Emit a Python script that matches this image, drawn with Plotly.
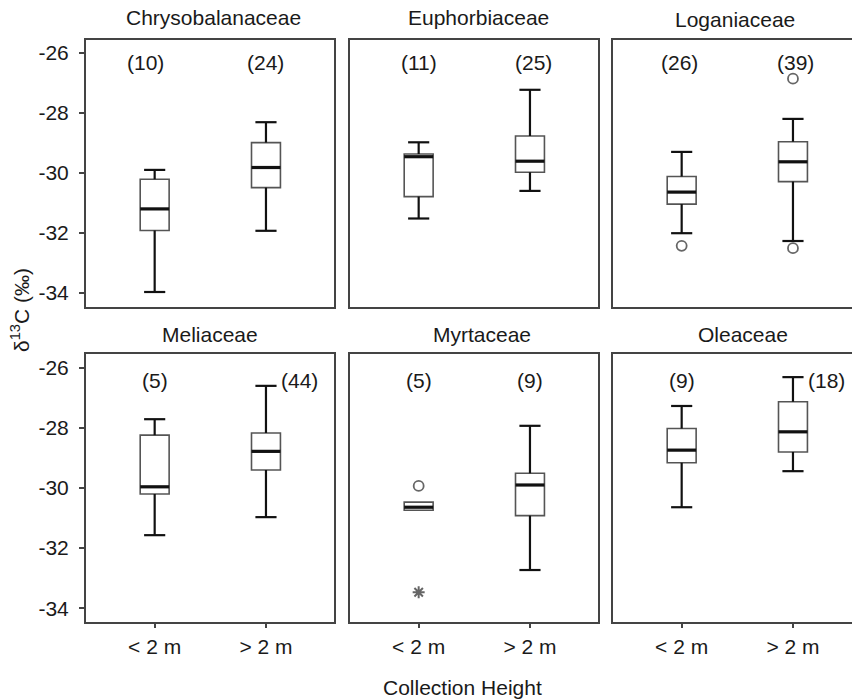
import plotly.graph_objects as go

W, H = 852, 699

# ---------------- data ----------------
families = ["Chrysobalanaceae", "Euphorbiaceae", "Loganiaceae",
            "Meliaceae", "Myrtaceae", "Oleaceae"]
categories = ["< 2 m", "> 2 m"]
n_counts = [[10, 24], [11, 25], [26, 39], [5, 44], [5, 9], [9, 18]]

# [<2 m, >2 m] per family
lower_whisker = [[-33.98, -31.94], [-31.53, -30.61], [-32.02, -32.28],
                 [-31.57, -30.97], [-30.74, -32.73], [-30.64, -29.44]]
q1_vals = [[-31.93, -30.50], [-30.80, -29.99], [-31.05, -30.30],
           [-30.20, -29.40], [-30.74, -30.92], [-29.16, -28.80]]
median_vals = [[-31.21, -29.83], [-29.47, -29.62], [-30.65, -29.64],
               [-29.96, -28.78], [-30.64, -29.90], [-28.74, -28.13]]
q3_vals = [[-30.22, -29.00], [-29.38, -28.78], [-30.13, -28.97],
           [-28.24, -28.17], [-30.47, -29.51], [-28.02, -27.13]]
upper_whisker = [[-29.91, -28.32], [-28.99, -27.24], [-29.31, -28.21],
                 [-27.71, -26.60], [-30.47, -27.93], [-27.27, -26.31]]
# outliers (circles) and extremes (stars)
outliers = [[[], []], [[], []], [[-32.44], [-26.87, -32.52]],
            [[], []], [[-29.93], []], [[], []]]
extremes = [[[], []], [[], []], [[], []],
            [[], []], [[-33.47], []], [[], []]]
y_ticks = [-26, -28, -30, -32, -34]

# ---------------- layout helpers ----------------
def fx(px):
    return px / W

def fy(px):
    return 1 - px / H

x_dom = [(86, 334), (350, 598), (613, 852)]
y_dom = [(40, 307), (354, 622)]
y_rng = [(-34.48, -25.58), (-34.46, -25.54)]
PX_PER_UNIT = 111.3
X0 = -0.617

BOX_W = 0.26
CAP_W = 0.19
frame_col = "#444444"
text_col = "#1a1a1a"
FONT = "Liberation Sans, Arial, Helvetica, sans-serif"

fig = go.Figure()
layout = dict(width=W, height=H, margin=dict(l=0, r=0, t=0, b=0),
              paper_bgcolor="white", plot_bgcolor="white",
              showlegend=False, font=dict(family=FONT, size=21, color=text_col))
annotations = []

for i, fam in enumerate(families):
    row, col = divmod(i, 3)
    k = i + 1
    xa = "x" if k == 1 else f"x{k}"
    ya = "y" if k == 1 else f"y{k}"
    xd = x_dom[col]
    yd = y_dom[row]
    xr = [X0, X0 + (xd[1] - xd[0]) / PX_PER_UNIT]
    layout["xaxis" if k == 1 else f"xaxis{k}"] = dict(
        domain=[fx(xd[0]), fx(xd[1])], range=xr, anchor=ya,
        showgrid=False, zeroline=False, showline=True, linecolor=frame_col,
        linewidth=2, mirror=True, fixedrange=True,
        tickmode="array", tickvals=[0, 1], ticktext=categories,
        ticks="outside" if row == 1 else "", ticklen=4, tickwidth=2,
        tickcolor=frame_col, ticklabelstandoff=1,
        tickfont=dict(size=21, color=text_col, family=FONT),
        showticklabels=(row == 1))
    layout["yaxis" if k == 1 else f"yaxis{k}"] = dict(
        domain=[fy(yd[1]), fy(yd[0])], range=list(y_rng[row]), anchor=xa,
        showgrid=False, zeroline=False, showline=True, linecolor=frame_col,
        linewidth=2, mirror=(col != 2), fixedrange=True,
        tickmode="array", tickvals=y_ticks, ticktext=[str(t) for t in y_ticks],
        ticks="outside" if col == 0 else "", ticklen=5, tickwidth=2,
        tickcolor=frame_col, ticklabelstandoff=6,
        tickfont=dict(size=21, color=text_col, family=FONT),
        showticklabels=(col == 0))

    for j in range(2):
        lo, a, m, b, hi = (lower_whisker[i][j], q1_vals[i][j], median_vals[i][j],
                           q3_vals[i][j], upper_whisker[i][j])
        fig.add_trace(go.Box(
            x=[j], q1=[a], median=[m], q3=[b], lowerfence=[a], upperfence=[b],
            width=BOX_W, whiskerwidth=0, fillcolor="white",
            line=dict(color="#555555", width=1.6), boxpoints=False,
            xaxis=xa, yaxis=ya, hoverinfo="skip"))
        # whiskers with caps
        wx, wy = [], []
        if hi > b:
            wx += [j, j, None, j - CAP_W / 2, j + CAP_W / 2, None]
            wy += [b, hi, None, hi, hi, None]
        if lo < a:
            wx += [j, j, None, j - CAP_W / 2, j + CAP_W / 2, None]
            wy += [a, lo, None, lo, lo, None]
        if wx:
            fig.add_trace(go.Scatter(x=wx, y=wy, mode="lines",
                                     line=dict(color="#111111", width=2.2),
                                     xaxis=xa, yaxis=ya, hoverinfo="skip"))
        # median
        fig.add_trace(go.Scatter(x=[j - BOX_W / 2, j + BOX_W / 2], y=[m, m],
                                 mode="lines", line=dict(color="#111111", width=3.2),
                                 xaxis=xa, yaxis=ya, hoverinfo="skip"))
        if outliers[i][j]:
            fig.add_trace(go.Scatter(
                x=[j] * len(outliers[i][j]), y=outliers[i][j], mode="markers",
                marker=dict(symbol="circle-open", size=10, color="#666666",
                            line=dict(width=1.8, color="#666666")),
                xaxis=xa, yaxis=ya, hoverinfo="skip"))
        if extremes[i][j]:
            fig.add_trace(go.Scatter(
                x=[j] * len(extremes[i][j]), y=extremes[i][j], mode="markers",
                marker=dict(symbol="asterisk-open", size=10, color="#666666",
                            line=dict(width=2, color="#666666")),
                xaxis=xa, yaxis=ya, hoverinfo="skip"))

# n labels (x offsets where the label was shifted in the original)
n_label_x = [[-0.08, 1.0], [0.0, 1.03], [-0.02, 1.02],
             [0.0, 1.3], [0.0, 1.0], [0.0, 1.3]]
n_label_y = [-26.33, -26.42]
for i in range(6):
    row = i // 3
    k = i + 1
    xa = "x" if k == 1 else f"x{k}"
    ya = "y" if k == 1 else f"y{k}"
    for j in range(2):
        annotations.append(dict(
            x=n_label_x[i][j], y=n_label_y[row], xref=xa, yref=ya,
            text=f"({n_counts[i][j]})", showarrow=False,
            xanchor="center", yanchor="middle",
            font=dict(size=21, color=text_col, family=FONT)))

# panel titles
title_pos = [(213, 18), (479, 17), (735, 20), (210, 334), (482, 334), (743, 334)]
for fam, (tx, ty) in zip(families, title_pos):
    annotations.append(dict(
        x=fx(tx), y=fy(ty), xref="paper", yref="paper", text=fam,
        showarrow=False, xanchor="center", yanchor="middle",
        font=dict(size=21, color=text_col, family=FONT)))

# axis titles
annotations.append(dict(
    x=fx(20), y=fy(310), xref="paper", yref="paper",
    text="δ<sup>13</sup>C (‰)", textangle=-90, showarrow=False,
    xanchor="center", yanchor="middle",
    font=dict(size=21, color=text_col, family=FONT)))
annotations.append(dict(
    x=fx(462), y=fy(687), xref="paper", yref="paper",
    text="Collection Height", showarrow=False,
    xanchor="center", yanchor="middle",
    font=dict(size=21, color=text_col, family=FONT)))

layout["annotations"] = annotations
fig.update_layout(**layout)
fig.write_html("out.html")
